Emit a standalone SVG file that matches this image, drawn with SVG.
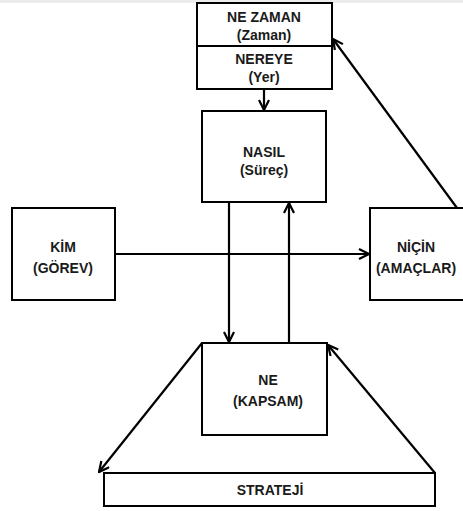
<svg xmlns="http://www.w3.org/2000/svg" width="463" height="511" viewBox="0 0 463 511">
<style>
.box{fill:#fff;stroke:#000;stroke-width:2}
.t{font-family:"Liberation Sans",Arial,sans-serif;font-weight:bold;font-size:14px;text-anchor:middle;fill:#1a1a1a}
.c{fill:none;stroke:#000;stroke-width:2.2}
</style>
<defs>
<marker id="a" viewBox="0 0 12 12" refX="11" refY="6" markerWidth="12" markerHeight="12" markerUnits="userSpaceOnUse" orient="auto">
<path d="M1,1 L11,6 L1,11" fill="none" stroke="#000" stroke-width="2.2"/>
</marker>
</defs>
<rect x="0" y="0" width="463" height="3" fill="#ececec"/>
<g id="zaman">
<rect class="box" x="197" y="3" width="135" height="86"/>
<line x1="197" y1="46" x2="332" y2="46" stroke="#000" stroke-width="2"/>
<text class="t" x="264" y="22">NE ZAMAN</text>
<text class="t" x="264" y="40">(Zaman)</text>
<text class="t" x="264" y="64">NEREYE</text>
<text class="t" x="264" y="82">(Yer)</text>
</g>
<g id="nasil">
<rect class="box" x="202" y="111" width="124" height="91"/>
<text class="t" x="264" y="157">NASIL</text>
<text class="t" x="264" y="175">(Süreç)</text>
</g>
<g id="kim">
<rect class="box" x="12" y="208" width="103" height="92"/>
<text class="t" x="63" y="252">KİM</text>
<text class="t" x="63" y="273">(GÖREV)</text>
</g>
<g id="nicin">
<rect class="box" x="370" y="208" width="100" height="92"/>
<text class="t" x="416" y="252">NİÇİN</text>
<text class="t" x="416" y="273">(AMAÇLAR)</text>
</g>
<g id="ne">
<rect class="box" x="202" y="343" width="125" height="92"/>
<text class="t" x="268" y="385">NE</text>
<text class="t" x="268" y="406">(KAPSAM)</text>
</g>
<g id="strateji">
<rect class="box" x="104" y="473" width="331" height="33"/>
<text class="t" x="270" y="495">STRATEJİ</text>
</g>
<g id="connectors">
<line class="c" x1="264" y1="89" x2="264" y2="110" marker-end="url(#a)"/>
<line class="c" x1="115" y1="254" x2="369" y2="254" marker-end="url(#a)"/>
<line class="c" x1="229" y1="202" x2="229" y2="342" marker-end="url(#a)"/>
<line class="c" x1="289" y1="343" x2="289" y2="203" marker-end="url(#a)"/>
<line class="c" x1="457" y1="208" x2="333" y2="39" marker-end="url(#a)"/>
<line class="c" x1="435" y1="473" x2="328" y2="345" marker-end="url(#a)"/>
<line class="c" x1="202" y1="343" x2="99" y2="472" marker-end="url(#a)"/>
</g>
</svg>
